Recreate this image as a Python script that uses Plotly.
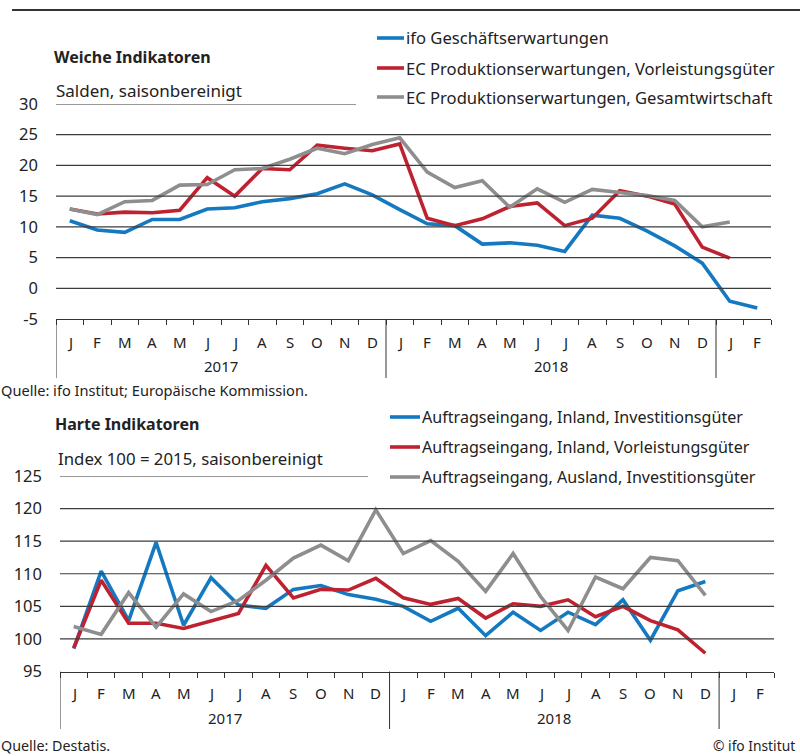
import plotly.graph_objects as go

W, H = 800, 756
months = ["J", "F", "M", "A", "M", "J", "J", "A", "S", "O", "N", "D"] * 2 + ["J", "F"]
years = ["2017", "2018"]

# Top chart: Weiche Indikatoren (Jan 2017 .. Feb 2019)
soft_names = ["ifo Geschäftserwartungen",
              "EC Produktionserwartungen, Vorleistungsgüter",
              "EC Produktionserwartungen, Gesamtwirtschaft"]
ifo_exp = [11.0, 9.5, 9.1, 11.2, 11.2, 12.9, 13.1, 14.1, 14.6, 15.4, 17.0, 15.2,
           12.8, 10.5, 10.2, 7.2, 7.4, 7.0, 6.0, 11.9, 11.4, 9.3, 6.9, 4.1,
           -2.1, -3.2]
ec_vorl = [12.9, 12.1, 12.4, 12.3, 12.7, 18.0, 15.0, 19.5, 19.3, 23.3, 22.8, 22.4,
           23.5, 11.4, 10.2, 11.3, 13.3, 13.9, 10.2, 11.4, 15.9, 15.0, 13.7, 6.7,
           4.9]
ec_gesamt = [12.9, 12.0, 14.1, 14.3, 16.8, 16.9, 19.3, 19.5, 21.0, 22.8, 21.9, 23.4,
             24.5, 18.9, 16.4, 17.5, 13.2, 16.2, 14.0, 16.1, 15.6, 15.1, 14.3, 10.0,
             10.8]
soft_ticks = [-5, 0, 5, 10, 15, 20, 25, 30]
soft_ticktext = ["-5", "0", "5", "10", "15", "20", "25", "30"]

# Bottom chart: Harte Indikatoren (Jan 2017 .. Dec 2018)
hard_names = ["Auftragseingang, Inland, Investitionsgüter",
              "Auftragseingang, Inland, Vorleistungsgüter",
              "Auftragseingang, Ausland, Investitionsgüter"]
inland_inv = [98.5, 110.4, 102.8, 114.8, 102.1, 109.4, 105.2, 104.7, 107.6, 108.2, 106.8, 106.1,
              105.0, 102.7, 104.7, 100.5, 104.1, 101.3, 104.1, 102.2, 106.0, 99.8, 107.4, 108.8]
inland_vorl = [98.6, 109.0, 102.4, 102.4, 101.6, 102.7, 103.9, 111.3, 106.3, 107.6, 107.5, 109.3,
               106.3, 105.3, 106.2, 103.2, 105.4, 105.0, 106.0, 103.4, 105.0, 102.8, 101.4, 97.8]
ausland_inv = [101.9, 100.7, 107.1, 101.8, 106.9, 104.2, 105.9, 109.0, 112.4, 114.4, 112.0, 119.8,
               113.1, 115.1, 111.9, 107.3, 113.1, 106.5, 101.3, 109.5, 107.7, 112.5, 112.0, 106.7]
hard_ticks = [95, 100, 105, 110, 115, 120, 125]
hard_ticktext = ["95", "100", "105", "110", "115", "120", "125"]

colors = ["#1479c0", "#be2230", "#8e8e8e"]
FONT = "Noto Sans"
TXT = "#222222"
GRID = "#3c3c3c"


def xp(px):
    return px / W


def yp(py):
    return 1 - py / H


fig = go.Figure()

soft = [ifo_exp, ec_vorl, ec_gesamt]
hard = [inland_inv, inland_vorl, ausland_inv]
for vals, c, n in zip(soft, colors, soft_names):
    fig.add_trace(go.Scatter(x=[i + 0.5 for i in range(len(vals))], y=vals, mode="lines",
                             line=dict(color=c, width=3.6), name=n, xaxis="x", yaxis="y",
                             showlegend=False))
for vals, c, n in zip(hard, colors, hard_names):
    fig.add_trace(go.Scatter(x=[i + 0.5 for i in range(len(vals))], y=vals, mode="lines",
                             line=dict(color=c, width=3.6), name=n, xaxis="x2", yaxis="y2",
                             showlegend=False))

# plot geometry (pixels)
top = dict(x0=56, x1=771, ybot=319, ytop=104, rng=[-5, 30], ticks=soft_ticks, tt=soft_ticktext,
           sub_end=356, month_y=342, year_y=366, sep_end=378)
bot = dict(x0=60, x1=774, ybot=671.5, ytop=476, rng=[95, 125], ticks=hard_ticks, tt=hard_ticktext,
           sub_end=368, month_y=693, year_y=718, sep_end=729)

axis_common = dict(showgrid=False, zeroline=False, fixedrange=True, automargin=False)
for k, g in (("", top), ("2", bot)):
    fig.update_layout(**{
        "xaxis" + k: dict(domain=[xp(g["x0"]), xp(g["x1"])], range=[0, 26],
                          tickvals=list(range(0, 27)), ticks="outside", ticklen=5,
                          tickcolor="#333", tickwidth=1, showticklabels=False,
                          showline=True, linecolor="#333", linewidth=1,
                          anchor="y" + k, **axis_common),
        "yaxis" + k: dict(domain=[yp(g["ybot"]), yp(g["ytop"])], range=g["rng"],
                          tickvals=g["ticks"], ticktext=g["tt"], ticks="", ticklabelstandoff=17,
                          tickfont=dict(family=FONT, size=16.5, color=TXT),
                          showline=False, anchor="x" + k, **axis_common),
    })

shapes = []
annotations = []
for k, g in (("", top), ("2", bot)):
    xr = "x" + k
    yr = "y" + k
    xdom = xr + " domain"
    # gridlines
    for v in g["ticks"][1:-1]:
        shapes.append(dict(type="line", xref=xdom, yref=yr, x0=0, x1=1, y0=v, y1=v,
                           line=dict(color=GRID, width=1.2)))
    # top gridline shortened (subtitle underline)
    frac = (g["sub_end"] - g["x0"]) / (g["x1"] - g["x0"])
    shapes.append(dict(type="line", xref=xdom, yref=yr, x0=0, x1=frac,
                       y0=g["ticks"][-1], y1=g["ticks"][-1], line=dict(color="#333", width=1.2)))
    # year separators
    for b in (0, 12, 24):
        shapes.append(dict(type="line", xref=xr, yref="paper", x0=b, x1=b,
                           y0=yp(g["ybot"]), y1=yp(g["sep_end"]), line=dict(color="#333", width=1)))
    # month labels
    for i, m in enumerate(months):
        annotations.append(dict(x=i + 0.5, y=yp(g["month_y"]), xref=xr, yref="paper",
                                text=m, showarrow=False, xanchor="center", yanchor="middle",
                                font=dict(family=FONT, size=15, color=TXT)))
    for j, yl in enumerate(years):
        annotations.append(dict(x=6 + 12 * j, y=yp(g["year_y"]), xref=xr, yref="paper",
                                text=yl, showarrow=False, xanchor="center", yanchor="middle",
                                font=dict(family=FONT, size=15, color=TXT)))

# top rule
shapes.append(dict(type="line", xref="paper", yref="paper", x0=xp(12), x1=1, y0=yp(10), y1=yp(10),
                   line=dict(color="#333", width=2.2)))


def text(px, py, s, size=15, bold=False, anchor="left"):
    annotations.append(dict(x=xp(px), y=yp(py), xref="paper", yref="paper",
                            text=("<b>%s</b>" % s) if bold else s, showarrow=False,
                            xanchor=anchor, yanchor="middle",
                            font=dict(family=FONT, size=size, color=TXT)))


text(52, 57, "Weiche Indikatoren", 16, True)
text(54, 90, "Salden, saisonbereinigt", 17)
text(53, 424, "Harte Indikatoren", 16, True)
text(56, 458, "Index 100 = 2015, saisonbereinigt", 16.8)

# legends
for names, lx0, lx1, rows, fs in ((soft_names, 377, 404, [38, 68, 97], 16.6),
                                  (hard_names, 390, 420, [417, 447, 477], 16.1)):
    for n, c, ry in zip(names, colors, rows):
        shapes.append(dict(type="line", xref="paper", yref="paper", x0=xp(lx0), x1=xp(lx1),
                           y0=yp(ry), y1=yp(ry), line=dict(color=c, width=3.6)))
        text(lx1, ry, n, fs)

text(-1, 390, "Quelle: ifo Institut; Europäische Kommission.", 14.6)
text(-1, 745, "Quelle: Destatis.", 14.3)
text(797, 745, "© ifo Institut", 13.8, anchor="right")

fig.update_layout(width=W, height=H, autosize=False,
                  margin=dict(l=0, r=0, t=0, b=0, pad=0, autoexpand=False),
                  paper_bgcolor="white", plot_bgcolor="white",
                  shapes=shapes, annotations=annotations, showlegend=False)

fig.write_html("out.html", config={"displayModeBar": False},
               post_script="document.body.style.margin='0';")
